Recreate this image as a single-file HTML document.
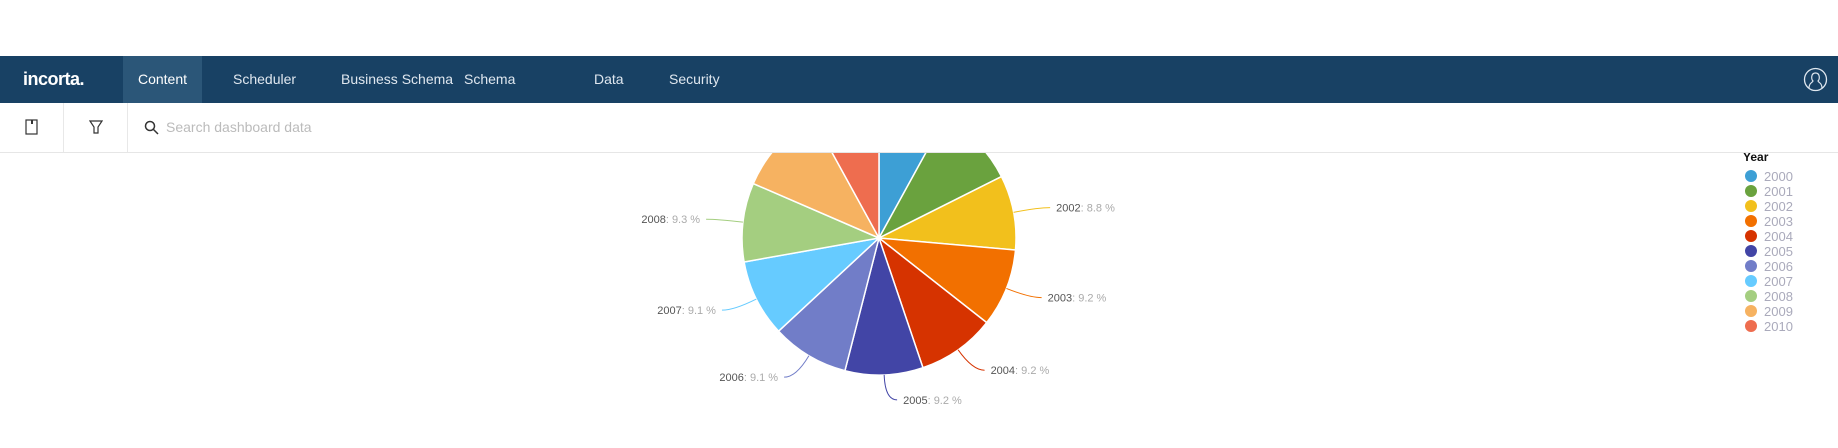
<!DOCTYPE html>
<html><head><meta charset="utf-8"><style>
body{margin:0;width:1838px;height:448px;overflow:hidden;background:#fff;font-family:"Liberation Sans",sans-serif;position:relative}
#nav{position:absolute;left:0;top:56px;width:1838px;height:47px;background:#184164;z-index:3}
.ni{position:absolute;top:0;height:47px;line-height:47px;color:#dfe7ef;font-size:14px}
#tb{position:absolute;left:0;top:103px;width:1838px;height:49px;background:#fff;border-bottom:1px solid #e6e6e6;z-index:2}
.sep{position:absolute;top:0;width:1px;height:49px;background:#e8e8e8}
#chart{position:absolute;left:0;top:0;z-index:1}
</style></head><body>
<div id="nav">
<div class="ni" style="left:23px;font-weight:bold;font-size:18px;color:#fff;letter-spacing:-0.5px">incorta.</div>
<div class="ni" style="left:123px;width:79px;text-align:center;background:#2b5678;color:#fff">Content</div>
<div class="ni" style="left:233px">Scheduler</div>
<div class="ni" style="left:341px">Business Schema</div>
<div class="ni" style="left:464px">Schema</div>
<div class="ni" style="left:594px">Data</div>
<div class="ni" style="left:669px">Security</div>
<svg style="position:absolute;left:1803px;top:11px" width="25" height="25"><circle cx="12.5" cy="12.5" r="11" fill="none" stroke="#dfe7ef" stroke-width="1.3"/><path d="M6 21 C6 16 9 16 10 14 C8 12 8 6 12.5 6 C17 6 17 12 15 14 C16 16 19 16 19 21" fill="none" stroke="#dfe7ef" stroke-width="1.2"/></svg>
</div>
<div id="tb">
<svg style="position:absolute;left:25px;top:16px" width="14" height="17"><rect x="1" y="1" width="11" height="14" fill="none" stroke="#333" stroke-width="1.2"/><rect x="6" y="1" width="2" height="4" fill="#333"/></svg>
<div class="sep" style="left:63px"></div>
<svg style="position:absolute;left:89px;top:17px" width="14" height="15"><path d="M1 1 H13 L9 7 V13 H5 V7 Z" fill="none" stroke="#333" stroke-width="1.2"/></svg>
<div class="sep" style="left:127px"></div>
<svg style="position:absolute;left:144px;top:17px" width="15" height="15"><circle cx="6" cy="6" r="4.5" fill="none" stroke="#333" stroke-width="1.5"/><line x1="9.5" y1="9.5" x2="14" y2="14" stroke="#333" stroke-width="1.5"/></svg>
<div style="position:absolute;left:166px;top:0;line-height:49px;font-size:14px;color:#bbb">Search dashboard data</div>
</div>
<svg id="chart" width="1838" height="448"></svg>
<script>
const years=["2000","2001","2002","2003","2004","2005","2006","2007","2008","2009","2010"];
const shares=[8.0,9.6,8.8,9.2,9.2,9.2,9.1,9.1,9.3,10.5,8.0];
const shown=[false,false,true,true,true,true,true,true,true,false,false];
const colors=["#3d9fd5","#6aa23e","#f2c01c","#f27000","#d63300","#4245a6","#717dc8","#66cbff","#a4ce80","#f6b261","#ee6d4f"];
const svg=document.getElementById('chart');
const NS="http://www.w3.org/2000/svg";
const cx=879,cy=238,R=137;
function mk(t,a){const e=document.createElementNS(NS,t);for(const k in a)e.setAttribute(k,a[k]);svg.appendChild(e);return e;}
const total=shares.reduce((a,b)=>a+b,0);
function ang(v){return v/total*2*Math.PI;}
function pt(a,r){return [cx+r*Math.sin(a),cy-r*Math.cos(a)];}
let a0=0;
shares.forEach((v,i)=>{
 const a1=a0+ang(v);
 const p0=pt(a0,R),p1=pt(a1,R);
 const s=mk('path',{d:`M${cx},${cy}L${p0[0]},${p0[1]}A${R},${R} 0 ${a1-a0>Math.PI?1:0} 1 ${p1[0]},${p1[1]}Z`,fill:colors[i],stroke:'#fff','stroke-width':1.5});
 
 
 if(shown[i]){
  const m=(a0+a1)/2;
  const q0=pt(m,R),q1=pt(m,R+25);
  const right=Math.sin(m)>=0;
  const ex=q1[0]+(right?12:-12);
  const l=mk('path',{d:`M${q0[0]},${q0[1]}Q${q1[0]},${q1[1]} ${ex},${q1[1]}`,fill:'none',stroke:colors[i],'stroke-width':1});
  
  
  const t=mk('text',{x:ex+(right?6:-6),y:q1[1]+4,'font-size':11,'text-anchor':right?'start':'end','font-family':'Liberation Sans, sans-serif'});
  
  
  t.innerHTML=`<tspan fill="#555">${years[i]}</tspan><tspan fill="#aaa">: ${v.toFixed(1)} %</tspan>`;
 }
 a0=a1;
});
const lt=mk('text',{x:1743,y:161,'font-size':12,'font-weight':'bold',fill:'#111'});


lt.textContent='Year';
years.forEach((y,i)=>{
 const yy=176+i*15;
 const c=mk('circle',{cx:1751,cy:yy,r:6,fill:colors[i]});
 
 
 const t=mk('text',{x:1764,y:yy+5,'font-size':13,fill:'#aab'});
 
 
 t.textContent=y;
});
</script>
</body></html>
